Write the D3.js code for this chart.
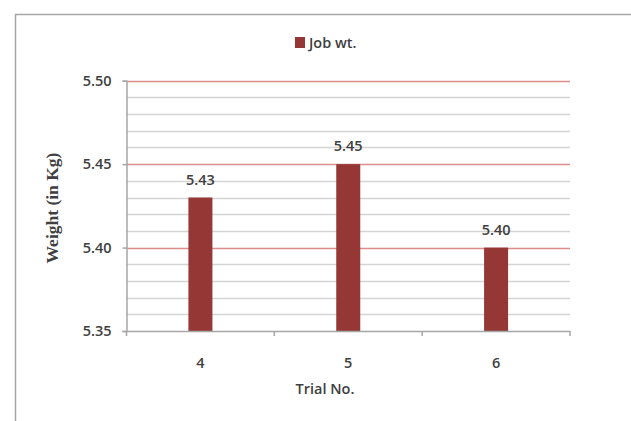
<!DOCTYPE html>
<html><head><meta charset="utf-8">
<script src="https://cdn.jsdelivr.net/npm/d3@7"></script>
<style>
html,body{margin:0;padding:0;background:#fff;}
svg{display:block;}
text{font-family:"Open Sans","Liberation Sans",sans-serif;fill:#404040;}
</style></head>
<body>
<script>
// Trial categories and measured job weights
const trials = ["4", "5", "6"];
const jobWeight = [5.43, 5.45, 5.40];
const seriesName = "Job wt.";
const yTicks = [5.35, 5.40, 5.45, 5.50];

(function () {
const W = 631, H = 421;
const FS = 14.5;
const svg = d3.select("body").append("svg").attr("width", W).attr("height", H);

// chart frame
svg.append("path").attr("d", "M15.5,421 V14.5 H631")
  .attr("fill", "none").attr("stroke", "#a6a6a6").attr("stroke-width", 1.5);

const mLeft = 126.5, mRight = 570, mTop = 80.7, mBottom = 331;
const y = d3.scaleLinear().domain([5.35, 5.50]).range([mBottom, mTop]);
const x = d3.scaleBand().domain(trials).range([mLeft, mRight]);

// minor gridlines every 0.01, major every 0.05
const minor = d3.range(0, 16).map(i => +(5.35 + i * 0.01).toFixed(2));
svg.append("g").selectAll("line").data(minor.filter(v => !yTicks.includes(v)))
  .join("line").attr("x1", mLeft).attr("x2", mRight)
  .attr("y1", d => Math.round(y(d)) + 0.5).attr("y2", d => Math.round(y(d)) + 0.5)
  .attr("stroke", "#d4d4d4").attr("stroke-width", 1.5);
svg.append("g").selectAll("line").data(yTicks.filter(v => v > 5.35))
  .join("line").attr("x1", mLeft).attr("x2", mRight)
  .attr("y1", d => Math.round(y(d)) + 0.5).attr("y2", d => Math.round(y(d)) + 0.5)
  .attr("stroke", "#dc8c8a").attr("stroke-width", 1.5);

// bars
const barW = 24;
svg.append("g").selectAll("rect").data(jobWeight).join("rect")
  .attr("x", (d, i) => x(trials[i]) + x.bandwidth() / 2 - barW / 2)
  .attr("width", barW)
  .attr("y", d => y(d)).attr("height", d => mBottom - y(d))
  .attr("fill", "#953735");

// value labels
svg.append("g").selectAll("text").data(jobWeight).join("text")
  .attr("x", (d, i) => x(trials[i]) + x.bandwidth() / 2)
  .attr("y", d => y(d) - 13)
  .attr("text-anchor", "middle").attr("font-size", FS).attr("font-weight", 600)
  .text(d => d.toFixed(2));

// y axis
const yAxis = svg.append("g").attr("transform", `translate(${mLeft},0)`)
  .call(d3.axisLeft(y).tickValues(yTicks).tickFormat(d3.format(".2f")).tickSizeOuter(0).tickSize(4));
yAxis.select(".domain").attr("stroke", "#a6a6a6").attr("stroke-width", 1.5);
yAxis.selectAll(".tick line").attr("stroke", "#a6a6a6").attr("stroke-width", 1.5);
yAxis.selectAll(".tick text").attr("x", -15).attr("font-size", FS).attr("font-weight", 600)
  .attr("fill", "#404040").style("font-family", "'Open Sans',sans-serif");

// x axis with ticks at band boundaries
const xAxis = svg.append("g").attr("transform", `translate(0,${mBottom})`);
xAxis.append("line").attr("x1", mLeft).attr("x2", mRight).attr("y1", 0.5).attr("y2", 0.5)
  .attr("stroke", "#a6a6a6").attr("stroke-width", 1.5);
const bounds = trials.map(t => x(t)).concat([mRight]);
xAxis.selectAll("line.t").data(bounds).join("line").attr("class", "t")
  .attr("x1", d => d).attr("x2", d => d).attr("y1", 0).attr("y2", 5)
  .attr("stroke", "#a6a6a6").attr("stroke-width", 1.5);
xAxis.selectAll("text").data(trials).join("text")
  .attr("x", d => x(d) + x.bandwidth() / 2).attr("y", 37)
  .attr("text-anchor", "middle").attr("font-size", FS).attr("font-weight", 600)
  .text(d => d);

// axis titles
svg.append("text").attr("x", 325).attr("y", 393.5).attr("text-anchor", "middle")
  .attr("font-size", FS).attr("font-weight", 600).text("Trial No.");
svg.append("text").attr("transform", "translate(58,208) rotate(-90)")
  .attr("text-anchor", "middle").attr("font-size", 17.5).attr("font-weight", "bold")
  .style("font-family", "'Liberation Serif','DejaVu Serif',serif").text("Weight (in Kg)");

// legend
svg.append("rect").attr("x", 295).attr("y", 37).attr("width", 10).attr("height", 11).attr("fill", "#953735");
svg.append("text").attr("x", 309).attr("y", 47.5).attr("font-size", FS).attr("font-weight", 600).text(seriesName);
})();
</script>
</body></html>
